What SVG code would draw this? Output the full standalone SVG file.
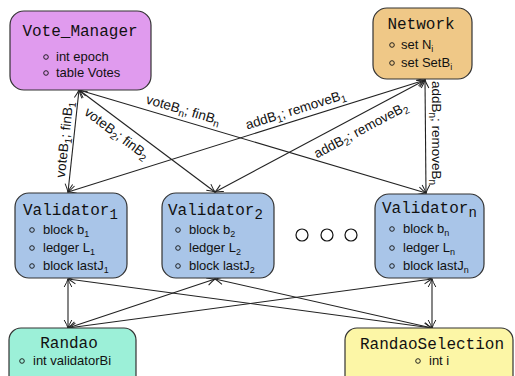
<svg xmlns="http://www.w3.org/2000/svg" width="515" height="376" viewBox="0 0 515 376">
<style>
.box{stroke:#333;stroke-width:1.2}
.title{font-family:"Liberation Mono",monospace;font-size:16px;fill:#111}
.item{font-family:"Liberation Sans",sans-serif;font-size:13px;fill:#111}
.lbl{font-family:"Liberation Sans",sans-serif;font-size:13.5px;fill:#111}
.bul{fill:none;stroke:#111;stroke-width:0.9}
.con{stroke:#222;stroke-width:1.1;fill:none;marker-start:url(#ah);marker-end:url(#ah)}
</style>
<defs>
<marker id="ah" markerUnits="userSpaceOnUse" viewBox="-9 -5 10 10" refX="0" refY="0" markerWidth="10" markerHeight="10" orient="auto-start-reverse">
<path d="M-8,-3.8 Q-3,-1 0,0 Q-3,1 -8,3.8" fill="none" stroke="#222" stroke-width="1"/>
</marker>
</defs>
<rect width="515" height="376" fill="#fff"/>
<g id="connectors">
<line class="con" x1="79" y1="90" x2="68" y2="192"/>
<line class="con" x1="79" y1="90" x2="215" y2="192"/>
<line class="con" x1="79" y1="90" x2="426" y2="193"/>
<line class="con" x1="425" y1="80" x2="68" y2="192"/>
<line class="con" x1="425" y1="80" x2="215" y2="192"/>
<line class="con" x1="425" y1="80" x2="426" y2="193"/>
<line class="con" x1="68" y1="279" x2="68" y2="328"/>
<line class="con" x1="68" y1="279" x2="432" y2="328"/>
<line class="con" x1="215" y1="279" x2="68" y2="328"/>
<line class="con" x1="215" y1="279" x2="432" y2="328"/>
<line class="con" x1="432" y1="279" x2="68" y2="328"/>
<line class="con" x1="432" y1="279" x2="432" y2="328"/>
<text class="lbl" text-anchor="middle" transform="translate(69,140) rotate(-83.7)">voteB<tspan dy="3" font-size="10">1</tspan><tspan dy="-3">; finB</tspan><tspan dy="3" font-size="10">1</tspan></text>
<text class="lbl" text-anchor="middle" transform="translate(114,137) rotate(36.9)">voteB<tspan dy="3" font-size="10">2</tspan><tspan dy="-3">; finB</tspan><tspan dy="3" font-size="10">2</tspan></text>
<text class="lbl" text-anchor="middle" transform="translate(182,114) rotate(16.3)">voteB<tspan dy="3" font-size="10">n</tspan><tspan dy="-3">; finB</tspan><tspan dy="3" font-size="10">n</tspan></text>
<text class="lbl" text-anchor="middle" transform="translate(297,114) rotate(-17.4)">addB<tspan dy="3" font-size="10">1</tspan><tspan dy="-3">; removeB</tspan><tspan dy="3" font-size="10">1</tspan></text>
<text class="lbl" text-anchor="middle" transform="translate(363,134) rotate(-28.2)">addB<tspan dy="3" font-size="10">2</tspan><tspan dy="-3">; removeB</tspan><tspan dy="3" font-size="10">2</tspan></text>
<text class="lbl" text-anchor="middle" transform="translate(432,133) rotate(90)">addB<tspan dy="3" font-size="10">n</tspan><tspan dy="-3">; removeB</tspan><tspan dy="3" font-size="10">n</tspan></text>
</g>
<g id="vote_manager">
<rect class="box" x="10" y="11" width="141" height="79" rx="14" fill="#e09bee"/>
<text class="title" x="80" y="36" text-anchor="middle">Vote_Manager</text>
<circle class="bul" cx="46" cy="57" r="2.3"/>
<text class="item" x="56" y="61">int epoch</text>
<circle class="bul" cx="46" cy="73" r="2.3"/>
<text class="item" x="56" y="77">table Votes</text>
</g>
<g id="network">
<rect class="box" x="373" y="8" width="99" height="71" rx="14" fill="#efc887"/>
<text class="title" x="421" y="29" text-anchor="middle">Network</text>
<circle class="bul" cx="392" cy="45" r="2.3"/>
<text class="item" x="401" y="49">set N<tspan dy="3" font-size="9">i</tspan></text>
<circle class="bul" cx="392" cy="63" r="2.3"/>
<text class="item" x="401" y="67">set SetB<tspan dy="3" font-size="9">i</tspan></text>
</g>
<g id="validator_1">
<rect class="box" x="15" y="193" width="112" height="85" rx="14" fill="#a9c5e8"/>
<text class="title" x="23" y="215">Validator<tspan dy="4" font-size="14">1</tspan></text>
<circle class="bul" cx="32" cy="230" r="2.3"/>
<text class="item" x="43" y="234">block b<tspan dy="3" font-size="9">1</tspan></text>
<circle class="bul" cx="32" cy="248" r="2.3"/>
<text class="item" x="43" y="252">ledger L<tspan dy="3" font-size="9">1</tspan></text>
<circle class="bul" cx="32" cy="266" r="2.3"/>
<text class="item" x="43" y="270">block lastJ<tspan dy="3" font-size="9">1</tspan></text>
</g>
<g id="validator_2">
<rect class="box" x="162" y="193" width="112" height="85" rx="14" fill="#a9c5e8"/>
<text class="title" x="168" y="215">Validator<tspan dy="4" font-size="14">2</tspan></text>
<circle class="bul" cx="178" cy="230" r="2.3"/>
<text class="item" x="189" y="234">block b<tspan dy="3" font-size="9">2</tspan></text>
<circle class="bul" cx="178" cy="248" r="2.3"/>
<text class="item" x="189" y="252">ledger L<tspan dy="3" font-size="9">2</tspan></text>
<circle class="bul" cx="178" cy="266" r="2.3"/>
<text class="item" x="189" y="270">block lastJ<tspan dy="3" font-size="9">2</tspan></text>
</g>
<g id="dots">
<circle cx="302" cy="235" r="6" fill="#fff" stroke="#111" stroke-width="1.2"/>
<circle cx="327" cy="235" r="6" fill="#fff" stroke="#111" stroke-width="1.2"/>
<circle cx="351" cy="235" r="6" fill="#fff" stroke="#111" stroke-width="1.2"/>
</g>
<g id="validator_n">
<rect class="box" x="375" y="194" width="109" height="84" rx="14" fill="#a9c5e8"/>
<text class="title" x="382" y="213">Validator<tspan dy="4" font-size="14">n</tspan></text>
<circle class="bul" cx="392" cy="229" r="2.3"/>
<text class="item" x="403" y="233">block b<tspan dy="3" font-size="9">n</tspan></text>
<circle class="bul" cx="392" cy="248" r="2.3"/>
<text class="item" x="403" y="252">ledger L<tspan dy="3" font-size="9">n</tspan></text>
<circle class="bul" cx="392" cy="266" r="2.3"/>
<text class="item" x="403" y="270">block lastJ<tspan dy="3" font-size="9">n</tspan></text>
</g>
<g id="randao">
<rect class="box" x="9" y="328" width="127" height="62" rx="12" fill="#9cf0d8"/>
<text class="title" x="69" y="348" text-anchor="middle">Randao</text>
<circle class="bul" cx="22" cy="361" r="2.3"/>
<text class="item" x="33" y="365">int validatorBi</text>
</g>
<g id="randao_selection">
<rect class="box" x="345" y="328" width="168" height="62" rx="12" fill="#fcf6a6"/>
<text class="title" x="432" y="349" text-anchor="middle">RandaoSelection</text>
<circle class="bul" cx="418" cy="361" r="2.3"/>
<text class="item" x="429" y="365">int i</text>
</g>
</svg>
